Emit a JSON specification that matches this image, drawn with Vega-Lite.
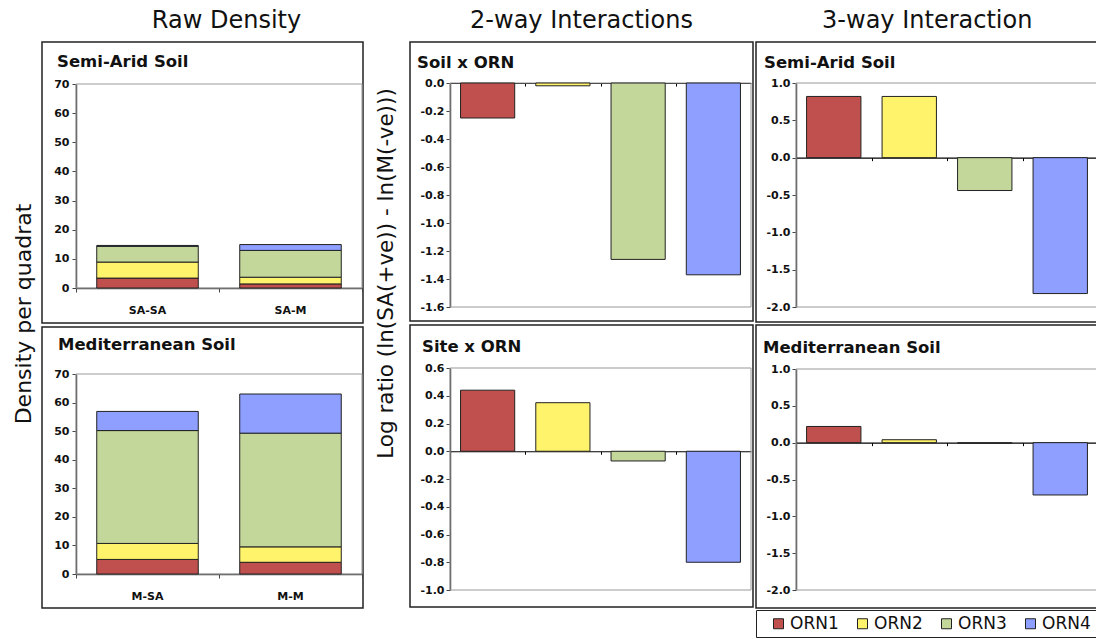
{
  "$schema": "https://vega.github.io/schema/vega-lite/v6.json",
  "padding": {"left": 13, "top": 9, "right": 0, "bottom": 0},
  "config": {
    "locale": {"number": {"decimal": ".", "thousands": ",", "grouping": [3], "currency": ["$", ""], "minus": "-"}},
    "view": {"stroke": "#222", "strokeWidth": 1.5},
    "font": "DejaVu Sans",
    "axis": {"labelFont": "DejaVu Sans", "labelFontWeight": "bold", "labelFontSize": 11, "labelColor": "#111", "tickColor": "#444", "domainColor": "#444", "domainWidth": 1.5, "grid": false, "labelOverlap": false}
  },
  "datasets": {
    "raw": [
      {"soil": "Semi-Arid Soil", "site": "SA-SA", "ORN": "ORN1", "density": 3.4},
      {"soil": "Semi-Arid Soil", "site": "SA-SA", "ORN": "ORN2", "density": 5.5},
      {"soil": "Semi-Arid Soil", "site": "SA-SA", "ORN": "ORN3", "density": 5.4},
      {"soil": "Semi-Arid Soil", "site": "SA-SA", "ORN": "ORN4", "density": 0.3},
      {"soil": "Semi-Arid Soil", "site": "SA-M", "ORN": "ORN1", "density": 1.4},
      {"soil": "Semi-Arid Soil", "site": "SA-M", "ORN": "ORN2", "density": 2.3},
      {"soil": "Semi-Arid Soil", "site": "SA-M", "ORN": "ORN3", "density": 9.2},
      {"soil": "Semi-Arid Soil", "site": "SA-M", "ORN": "ORN4", "density": 2.0},
      {"soil": "Mediterranean Soil", "site": "M-SA", "ORN": "ORN1", "density": 5.1},
      {"soil": "Mediterranean Soil", "site": "M-SA", "ORN": "ORN2", "density": 5.6},
      {"soil": "Mediterranean Soil", "site": "M-SA", "ORN": "ORN3", "density": 39.5},
      {"soil": "Mediterranean Soil", "site": "M-SA", "ORN": "ORN4", "density": 6.7},
      {"soil": "Mediterranean Soil", "site": "M-M", "ORN": "ORN1", "density": 4.1},
      {"soil": "Mediterranean Soil", "site": "M-M", "ORN": "ORN2", "density": 5.4},
      {"soil": "Mediterranean Soil", "site": "M-M", "ORN": "ORN3", "density": 39.8},
      {"soil": "Mediterranean Soil", "site": "M-M", "ORN": "ORN4", "density": 13.7}
    ],
    "lr": [
      {"panel": "Soil x ORN", "ORN": "ORN1", "value": -0.25},
      {"panel": "Soil x ORN", "ORN": "ORN2", "value": -0.02},
      {"panel": "Soil x ORN", "ORN": "ORN3", "value": -1.26},
      {"panel": "Soil x ORN", "ORN": "ORN4", "value": -1.37},
      {"panel": "Site x ORN", "ORN": "ORN1", "value": 0.44},
      {"panel": "Site x ORN", "ORN": "ORN2", "value": 0.35},
      {"panel": "Site x ORN", "ORN": "ORN3", "value": -0.07},
      {"panel": "Site x ORN", "ORN": "ORN4", "value": -0.80},
      {"panel": "3-way Semi-Arid Soil", "ORN": "ORN1", "value": 0.82},
      {"panel": "3-way Semi-Arid Soil", "ORN": "ORN2", "value": 0.82},
      {"panel": "3-way Semi-Arid Soil", "ORN": "ORN3", "value": -0.44},
      {"panel": "3-way Semi-Arid Soil", "ORN": "ORN4", "value": -1.82},
      {"panel": "3-way Mediterranean Soil", "ORN": "ORN1", "value": 0.22},
      {"panel": "3-way Mediterranean Soil", "ORN": "ORN2", "value": 0.04},
      {"panel": "3-way Mediterranean Soil", "ORN": "ORN3", "value": -0.01},
      {"panel": "3-way Mediterranean Soil", "ORN": "ORN4", "value": -0.71}
    ]
  },
  "spacing": 11,
  "resolve": {"legend": {"color": "independent"}},
  "hconcat": [
    {
      "title": {"text": "Density per quadrat", "orient": "left", "fontSize": 22, "fontWeight": "normal", "color": "#111", "offset": 5, "anchor": "middle", "dx": -5},
      "vconcat": [
        {
          "title": {"text": "Raw Density", "fontSize": 24, "fontWeight": "normal", "color": "#111", "offset": 8, "dx": 24, "anchor": "middle"},
          "spacing": 2,
          "vconcat": [
            {
              "width": 321, "height": 281,
              "title": {"text": "Semi-Arid Soil", "anchor": "start", "frame": "group", "baseline": "alphabetic", "offset": -41, "dx": 15, "fontSize": 16.5, "fontWeight": "bold", "color": "#111"},
              "layer": [
                {
                  "data": {"values": [{"frame": "plot"}]},
                  "mark": {"type": "rect", "fill": "transparent", "stroke": "#999", "strokeWidth": 1},
                  "encoding": {
                    "x": {"datum": 0, "type": "quantitative", "scale": {"domain": [0, 1], "range": [34, 320]}, "axis": {"orient": "bottom", "values": [0, 0.5, 1], "tickCount": 20, "labels": false, "tickSize": 4, "offset": -35, "title": null}},
                    "x2": {"datum": 1},
                    "y": {"datum": 0, "type": "quantitative", "scale": {"domain": [0, 70], "range": [246, 42], "nice": false}},
                    "y2": {"datum": 70}
                  }
                },
                {
                  "data": {"name": "raw"},
                  "transform": [{"filter": "datum.soil === 'Semi-Arid Soil'"}],
                  "mark": {"type": "bar", "stroke": "#222", "strokeWidth": 1},
                  "encoding": {
                    "x": {"field": "site", "type": "nominal", "sort": ["SA-SA", "SA-M"], "scale": {"range": [34, 320], "paddingInner": 0.29, "paddingOuter": 0.145}, "axis": {"orient": "bottom", "ticks": false, "domain": false, "labelAngle": 0, "labelPadding": 16, "offset": -35, "title": null}},
                    "y": {"field": "density", "type": "quantitative", "stack": "zero", "scale": {"domain": [0, 70], "range": [246, 42], "nice": false}, "axis": {"values": [0, 10, 20, 30, 40, 50, 60, 70], "tickCount": 20, "offset": -34, "tickSize": 4, "labelPadding": 3, "labelOverlap": false, "title": null}},
                    "color": {"field": "ORN", "type": "nominal", "scale": {"domain": ["ORN1", "ORN2", "ORN3", "ORN4"], "range": ["#C0504D", "#FFF36B", "#C4D79B", "#8E9FFF"]}, "legend": null},
                    "order": {"field": "ORN", "sort": "ascending"}
                  }
                }
              ],
              "resolve": {"scale": {"x": "independent"}}
            },
            {
              "width": 321, "height": 281,
              "title": {"text": "Mediterranean Soil", "anchor": "start", "frame": "group", "baseline": "alphabetic", "offset": -39, "dx": 16, "fontSize": 16.5, "fontWeight": "bold", "color": "#111"},
              "layer": [
                {
                  "data": {"values": [{"frame": "plot"}]},
                  "mark": {"type": "rect", "fill": "transparent", "stroke": "#999", "strokeWidth": 1},
                  "encoding": {
                    "x": {"datum": 0, "type": "quantitative", "scale": {"domain": [0, 1], "range": [34, 320]}, "axis": {"orient": "bottom", "values": [0, 0.5, 1], "tickCount": 20, "labels": false, "tickSize": 4, "offset": -34, "title": null}},
                    "x2": {"datum": 1},
                    "y": {"datum": 0, "type": "quantitative", "scale": {"domain": [0, 70], "range": [247, 47], "nice": false}},
                    "y2": {"datum": 70}
                  }
                },
                {
                  "data": {"name": "raw"},
                  "transform": [{"filter": "datum.soil === 'Mediterranean Soil'"}],
                  "mark": {"type": "bar", "stroke": "#222", "strokeWidth": 1},
                  "encoding": {
                    "x": {"field": "site", "type": "nominal", "sort": ["M-SA", "M-M"], "scale": {"range": [34, 320], "paddingInner": 0.29, "paddingOuter": 0.145}, "axis": {"orient": "bottom", "ticks": false, "domain": false, "labelAngle": 0, "labelPadding": 16, "offset": -34, "title": null}},
                    "y": {"field": "density", "type": "quantitative", "stack": "zero", "scale": {"domain": [0, 70], "range": [247, 47], "nice": false}, "axis": {"values": [0, 10, 20, 30, 40, 50, 60, 70], "tickCount": 20, "offset": -34, "tickSize": 4, "labelPadding": 3, "labelOverlap": false, "title": null}},
                    "color": {"field": "ORN", "type": "nominal", "scale": {"domain": ["ORN1", "ORN2", "ORN3", "ORN4"], "range": ["#C0504D", "#FFF36B", "#C4D79B", "#8E9FFF"]}, "legend": null},
                    "order": {"field": "ORN", "sort": "ascending"}
                  }
                }
              ],
              "resolve": {"scale": {"x": "independent"}}
            }
          ]
        }
      ]
    },
    {
      "spacing": 0,
      "resolve": {"legend": {"color": "independent"}},
      "hconcat": [
        {
          "title": {"text": "Log ratio (ln(SA(+ve)) - ln(M(-ve)))", "orient": "left", "fontSize": 21.5, "fontWeight": "normal", "color": "#111", "offset": 12, "anchor": "middle", "dx": 35},
          "vconcat": [
            {
              "title": {"text": "2-way Interactions", "fontSize": 24, "fontWeight": "normal", "color": "#111", "offset": 8, "anchor": "middle"},
              "spacing": 2,
              "vconcat": [
                {
                  "width": 343, "height": 279,
                  "title": {"text": "Soil x ORN", "anchor": "start", "frame": "group", "baseline": "alphabetic", "offset": -42, "dx": 7, "fontSize": 16.5, "fontWeight": "bold", "color": "#111"},
                  "layer": [
                    {
                      "data": {"values": [{"frame": "plot"}]},
                      "mark": {"type": "rect", "fill": "transparent", "stroke": "#999", "strokeWidth": 1},
                      "encoding": {
                        "x": {"datum": 0, "type": "quantitative", "scale": {"domain": [0, 1], "range": [40, 341]}, "axis": {"orient": "bottom", "values": [0.25, 0.5, 0.75], "tickCount": 20, "labels": false, "tickSize": 3, "tickColor": "#000", "domainColor": "#000", "domainWidth": 1.2, "offset": -238, "title": null}},
                        "x2": {"datum": 1},
                        "y": {"datum": -1.6, "type": "quantitative", "scale": {"domain": [-1.6, 0], "range": [265, 41], "nice": false, "zero": false}},
                        "y2": {"datum": 0}
                      }
                    },
                    {
                      "data": {"name": "lr"},
                      "transform": [{"filter": "datum.panel === 'Soil x ORN'"}],
                      "mark": {"type": "bar", "stroke": "#222", "strokeWidth": 1},
                      "encoding": {
                        "x": {"field": "ORN", "type": "nominal", "scale": {"range": [40, 341], "paddingInner": 0.28, "paddingOuter": 0.14}, "axis": null},
                        "y": {"field": "value", "type": "quantitative", "scale": {"domain": [-1.6, 0], "range": [265, 41], "nice": false, "zero": false}, "axis": {"values": [-1.6, -1.4, -1.2, -1.0, -0.8, -0.6, -0.4, -0.2, 0], "tickCount": 20, "format": ".1f", "offset": -40, "tickSize": 4, "labelPadding": 2, "labelOverlap": false, "title": null}},
                        "color": {"field": "ORN", "type": "nominal", "scale": {"domain": ["ORN1", "ORN2", "ORN3", "ORN4"], "range": ["#C0504D", "#FFF36B", "#C4D79B", "#8E9FFF"]}, "legend": null}
                      }
                    }
                  ],
                  "resolve": {"scale": {"x": "independent"}}
                },
                {
                  "width": 343, "height": 282,
                  "title": {"text": "Site x ORN", "anchor": "start", "frame": "group", "baseline": "alphabetic", "offset": -43, "dx": 12, "fontSize": 16.5, "fontWeight": "bold", "color": "#111"},
                  "layer": [
                    {
                      "data": {"values": [{"frame": "plot"}]},
                      "mark": {"type": "rect", "fill": "transparent", "stroke": "#999", "strokeWidth": 1},
                      "encoding": {
                        "x": {"datum": 0, "type": "quantitative", "scale": {"domain": [0, 1], "range": [40, 341]}, "axis": {"orient": "bottom", "values": [0.25, 0.5, 0.75], "tickCount": 20, "labels": false, "tickSize": 3, "tickColor": "#000", "domainColor": "#000", "domainWidth": 1.2, "offset": -155.75, "title": null}},
                        "x2": {"datum": 1},
                        "y": {"datum": -1.0, "type": "quantitative", "scale": {"domain": [-1.0, 0.6], "range": [265, 43], "nice": false, "zero": false}},
                        "y2": {"datum": 0.6}
                      }
                    },
                    {
                      "data": {"name": "lr"},
                      "transform": [{"filter": "datum.panel === 'Site x ORN'"}],
                      "mark": {"type": "bar", "stroke": "#222", "strokeWidth": 1},
                      "encoding": {
                        "x": {"field": "ORN", "type": "nominal", "scale": {"range": [40, 341], "paddingInner": 0.28, "paddingOuter": 0.14}, "axis": null},
                        "y": {"field": "value", "type": "quantitative", "scale": {"domain": [-1.0, 0.6], "range": [265, 43], "nice": false, "zero": false}, "axis": {"values": [-1.0, -0.8, -0.6, -0.4, -0.2, 0, 0.2, 0.4, 0.6], "tickCount": 20, "format": ".1f", "offset": -40, "tickSize": 4, "labelPadding": 2, "labelOverlap": false, "title": null}},
                        "color": {"field": "ORN", "type": "nominal", "scale": {"domain": ["ORN1", "ORN2", "ORN3", "ORN4"], "range": ["#C0504D", "#FFF36B", "#C4D79B", "#8E9FFF"]}, "legend": null}
                      }
                    }
                  ],
                  "resolve": {"scale": {"x": "independent"}}
                }
              ]
            }
          ]
        },
        {
          "title": {"text": "3-way Interaction", "fontSize": 24, "fontWeight": "normal", "color": "#111", "offset": 8, "anchor": "middle"},
          "spacing": 1,
          "resolve": {"legend": {"color": "independent"}},
          "vconcat": [
            {
              "width": 343, "height": 280,
              "title": {"text": "Semi-Arid Soil", "anchor": "start", "frame": "group", "baseline": "alphabetic", "offset": -42, "dx": 8, "fontSize": 16.5, "fontWeight": "bold", "color": "#111"},
              "layer": [
                {
                  "data": {"values": [{"frame": "plot"}]},
                  "mark": {"type": "rect", "fill": "transparent", "stroke": "#999", "strokeWidth": 1},
                  "encoding": {
                    "x": {"datum": 0, "type": "quantitative", "scale": {"domain": [0, 1], "range": [40, 342]}, "axis": {"orient": "bottom", "values": [0.25, 0.5, 0.75], "tickCount": 20, "labels": false, "tickSize": 3, "tickColor": "#000", "domainColor": "#000", "domainWidth": 1.2, "offset": -164.33, "title": null}},
                    "x2": {"datum": 1},
                    "y": {"datum": -2, "type": "quantitative", "scale": {"domain": [-2, 1], "range": [265, 41], "nice": false, "zero": false}},
                    "y2": {"datum": 1}
                  }
                },
                {
                  "data": {"name": "lr"},
                  "transform": [{"filter": "datum.panel === '3-way Semi-Arid Soil'"}],
                  "mark": {"type": "bar", "stroke": "#222", "strokeWidth": 1},
                  "encoding": {
                    "x": {"field": "ORN", "type": "nominal", "scale": {"range": [40, 342], "paddingInner": 0.28, "paddingOuter": 0.14}, "axis": null},
                    "y": {"field": "value", "type": "quantitative", "scale": {"domain": [-2, 1], "range": [265, 41], "nice": false, "zero": false}, "axis": {"values": [-2, -1.5, -1, -0.5, 0, 0.5, 1], "tickCount": 20, "format": ".1f", "offset": -40, "tickSize": 4, "labelPadding": 2, "labelOverlap": false, "title": null}},
                    "color": {"field": "ORN", "type": "nominal", "scale": {"domain": ["ORN1", "ORN2", "ORN3", "ORN4"], "range": ["#C0504D", "#FFF36B", "#C4D79B", "#8E9FFF"]}, "legend": null}
                  }
                }
              ],
              "resolve": {"scale": {"x": "independent"}}
            },
            {
              "width": 343, "height": 283,
              "title": {"text": "Mediterranean Soil", "anchor": "start", "frame": "group", "baseline": "alphabetic", "offset": -44, "dx": 7, "fontSize": 16.5, "fontWeight": "bold", "color": "#111"},
              "layer": [
                {
                  "data": {"values": [{"frame": "plot"}]},
                  "mark": {"type": "rect", "fill": "transparent", "stroke": "#999", "strokeWidth": 1},
                  "encoding": {
                    "x": {"datum": 0, "type": "quantitative", "scale": {"domain": [0, 1], "range": [40, 342]}, "axis": {"orient": "bottom", "values": [0.25, 0.5, 0.75], "tickCount": 20, "labels": false, "tickSize": 3, "tickColor": "#000", "domainColor": "#000", "domainWidth": 1.2, "offset": -165.33, "title": null}},
                    "x2": {"datum": 1},
                    "y": {"datum": -2, "type": "quantitative", "scale": {"domain": [-2, 1], "range": [265, 44], "nice": false, "zero": false}},
                    "y2": {"datum": 1}
                  }
                },
                {
                  "data": {"name": "lr"},
                  "transform": [{"filter": "datum.panel === '3-way Mediterranean Soil'"}],
                  "mark": {"type": "bar", "stroke": "#222", "strokeWidth": 1},
                  "encoding": {
                    "x": {"field": "ORN", "type": "nominal", "scale": {"range": [40, 342], "paddingInner": 0.28, "paddingOuter": 0.14}, "axis": null},
                    "y": {"field": "value", "type": "quantitative", "scale": {"domain": [-2, 1], "range": [265, 44], "nice": false, "zero": false}, "axis": {"values": [-2, -1.5, -1, -0.5, 0, 0.5, 1], "tickCount": 20, "format": ".1f", "offset": -40, "tickSize": 4, "labelPadding": 2, "labelOverlap": false, "title": null}},
                    "color": {"field": "ORN", "type": "nominal", "scale": {"domain": ["ORN1", "ORN2", "ORN3", "ORN4"], "range": ["#C0504D", "#FFF36B", "#C4D79B", "#8E9FFF"]}, "legend": {"orient": "bottom", "direction": "horizontal", "columns": 4, "title": null, "symbolType": "square", "symbolSize": 100, "symbolStrokeColor": "#222", "symbolStrokeWidth": 1, "labelFont": "DejaVu Sans", "labelFontSize": 17, "labelColor": "#111", "labelOffset": 3, "columnPadding": 6, "padding": 5, "symbolOffset": 9, "strokeColor": "#222", "fillColor": "white", "offset": 2}}
                  }
                }
              ],
              "resolve": {"scale": {"x": "independent"}}
            }
          ]
        }
      ]
    }
  ]
}
